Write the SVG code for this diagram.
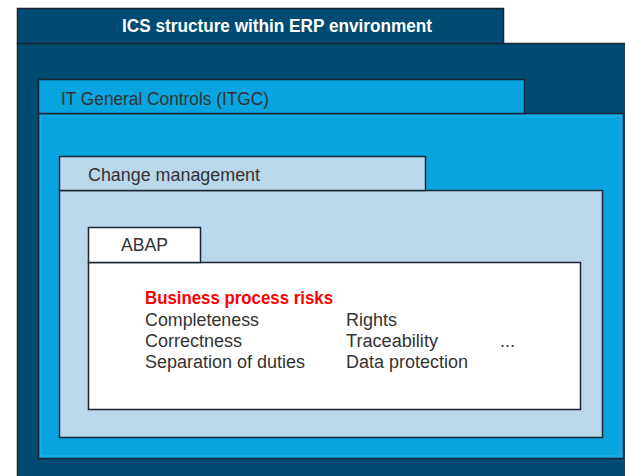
<svg xmlns="http://www.w3.org/2000/svg" width="625" height="476" viewBox="0 0 625 476">
  <style>
    .frame { stroke: #1b2634; stroke-width: 1.5; }
    .navy { fill: #004b73; }
    .cyan { fill: #08a4e0; }
    .pale { fill: #b9d8eb; }
    .white { fill: #ffffff; }
    .lbl { font-family: "Liberation Sans", Arial, sans-serif; font-size: 18px; fill: #333333; }
    .title { font-family: "Liberation Sans", Arial, sans-serif; font-size: 17.5px; font-weight: bold; fill: #ffffff; }
    .risk { font-family: "Liberation Sans", Arial, sans-serif; font-size: 18px; font-weight: bold; fill: #ff0000; }
  </style>
  <rect width="625" height="476" fill="#ffffff"/>

  <!-- Outer layer: ICS structure within ERP environment -->
  <g id="ics">
    <rect class="navy frame" x="17.5" y="43.5" width="620" height="440"/>
    <rect class="navy frame" x="17.5" y="8.5" width="486" height="35"/>
    <text class="title" x="277" y="31.5" text-anchor="middle" textLength="310" lengthAdjust="spacingAndGlyphs">ICS structure within ERP environment</text>
  </g>

  <!-- IT General Controls layer -->
  <g id="itgc">
    <rect class="cyan frame" x="38.5" y="113.5" width="585" height="345"/>
    <rect x="41" y="116" width="580" height="340" fill="none" stroke="#2db0e6" stroke-width="1"/>
    <rect class="cyan frame" x="38.5" y="79.5" width="486" height="34"/>
    <text class="lbl" x="61" y="104.5" textLength="208" lengthAdjust="spacingAndGlyphs">IT General Controls (ITGC)</text>
  </g>

  <!-- Change management layer -->
  <g id="change-management">
    <rect class="pale frame" x="59.5" y="190.5" width="543" height="247"/>
    <rect class="pale frame" x="59.5" y="156.5" width="366" height="34"/>
    <text class="lbl" x="88" y="180.5" textLength="172" lengthAdjust="spacingAndGlyphs">Change management</text>
  </g>

  <!-- ABAP layer with business process risks -->
  <g id="abap">
    <rect class="white frame" x="88.5" y="262.5" width="492" height="147"/>
    <rect class="white frame" x="88.5" y="227.5" width="112" height="35"/>
    <text class="lbl" x="121" y="251" textLength="47" lengthAdjust="spacingAndGlyphs">ABAP</text>
    <text class="risk" x="145" y="303.5" textLength="188" lengthAdjust="spacingAndGlyphs">Business process risks</text>
    <text class="lbl" x="145" y="325.5" textLength="114" lengthAdjust="spacingAndGlyphs">Completeness</text>
    <text class="lbl" x="145" y="346.5" textLength="97" lengthAdjust="spacingAndGlyphs">Correctness</text>
    <text class="lbl" x="145" y="367.5" textLength="160" lengthAdjust="spacingAndGlyphs">Separation of duties</text>
    <text class="lbl" x="346" y="325.5" textLength="51" lengthAdjust="spacingAndGlyphs">Rights</text>
    <text class="lbl" x="346" y="346.5" textLength="92" lengthAdjust="spacingAndGlyphs">Traceability</text>
    <text class="lbl" x="346" y="367.5" textLength="122" lengthAdjust="spacingAndGlyphs">Data protection</text>
    <text class="lbl" x="500" y="346.5">...</text>
  </g>

  <!-- No connectors in this diagram -->
  <g id="connectors"/>
</svg>
